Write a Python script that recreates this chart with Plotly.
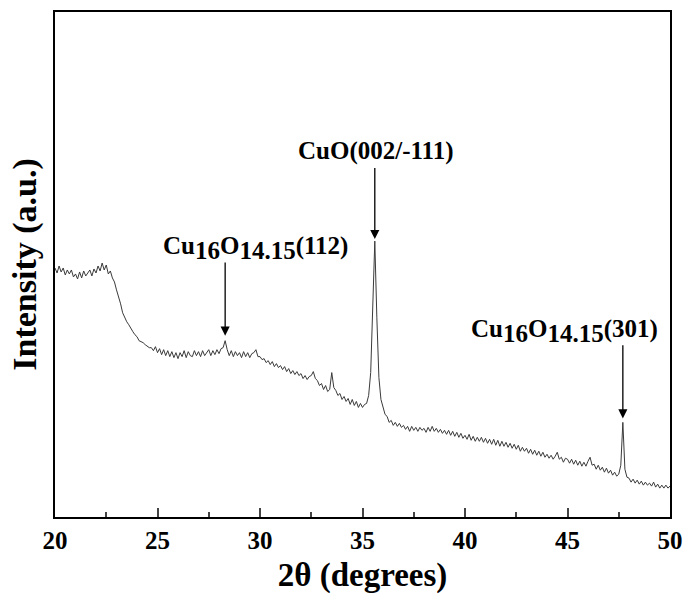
import numpy as np
import plotly.graph_objects as go

# 2theta grid (degrees), step 0.1
two_theta = [round(20 + 0.1 * i, 1) for i in range(301)]

intensity = [
    250, 245, 252, 246, 250, 243, 248, 244, 248, 241,
    244, 239, 246, 240, 247, 242, 245, 248, 242, 249,
    245, 252, 247, 255, 248, 253, 244, 247, 240, 236,
    228, 222, 214, 205, 200, 196, 193, 189, 186, 183,
    181, 177, 176, 175, 173, 171, 170, 170, 167, 171,
    165, 169, 163, 168, 162, 167, 161, 166, 160, 165,
    159, 165, 161, 167, 160, 166, 162, 161, 167, 162,
    166, 161, 167, 162, 165, 168, 162, 167, 163, 168,
    164, 169, 170, 177, 168, 162, 167, 161, 166, 162,
    165, 160, 166, 161, 165, 160, 164, 165, 168, 161,
    161, 158, 159, 155, 157, 153, 156, 151, 154, 150,
    152, 148, 151, 146, 149, 144, 147, 143, 146, 142,
    144, 139, 142, 138, 141, 142, 146, 139, 137, 132,
    134, 128, 132, 126, 128, 145, 130, 127, 122, 124,
    118, 121, 116, 119, 113, 118, 112, 116, 110, 114,
    110, 113, 114, 122, 145, 205, 277, 200, 140, 118,
    110, 103, 101, 95, 97, 92, 95, 91, 94, 90,
    92, 88, 91, 86, 91, 87, 90, 86, 90, 87,
    89, 85, 90, 86, 91, 86, 89, 85, 88, 84,
    87, 83, 87, 82, 86, 81, 85, 80, 84, 79,
    82, 78, 83, 77, 81, 76, 80, 76, 80, 75,
    79, 74, 78, 73, 78, 72, 77, 71, 76, 71,
    75, 70, 74, 69, 73, 68, 72, 66, 70, 66,
    69, 64, 68, 63, 67, 62, 66, 61, 65, 60,
    63, 59, 62, 58, 61, 65, 58, 60, 55, 59,
    58, 54, 58, 53, 57, 52, 56, 51, 55, 51,
    56, 60, 52, 53, 48, 52, 47, 50, 45, 49,
    44, 47, 42, 45, 41, 43, 52, 95, 48, 40,
    39, 35, 38, 34, 37, 33, 36, 32, 35, 32,
    34, 31, 35, 30, 33, 29, 32, 29, 32, 29,
    31,
]

# peak labels: text, peak position, label centre (x, y), arrow tail y, arrow tip y
SUB = '<sub><span style="font-size:25px">{}</span></sub>'
labels = ["Cu" + SUB.format("16") + "O" + SUB.format("14.15") + "(112)",
          "CuO(002/-111)",
          "Cu" + SUB.format("16") + "O" + SUB.format("14.15") + "(301)"]
peak_pos = [28.3, 35.6, 47.7]
label_x = [29.8, 35.65, 44.85]
label_y = [270, 367, 187]
arrow_tail = [257, 352, 174]
arrow_tip = [182, 279, 99]

x_ticks = [20, 25, 30, 35, 40, 45, 50]
x_tick_text = ["<b>%d</b>" % v for v in x_ticks]

FONT = "Liberation Serif"

fig = go.Figure()
fig.add_trace(go.Scatter(x=two_theta, y=intensity, mode="lines",
                         line=dict(color="#3a3a3a", width=1), showlegend=False))

for t, px, lx, ly, at, tip in zip(labels, peak_pos, label_x, label_y, arrow_tail, arrow_tip):
    fig.add_annotation(x=lx, y=ly, text="<b>" + t + "</b>", showarrow=False,
                       font=dict(family=FONT, size=25, color="black"))
    fig.add_annotation(x=px, y=tip, ax=px, ay=at, axref="x", ayref="y", text="",
                       showarrow=True, arrowhead=2, arrowsize=1.4, arrowwidth=1.3,
                       arrowcolor="black")

fig.update_layout(
    width=693, height=605,
    margin=dict(l=55, r=15, t=10, b=88),
    paper_bgcolor="white", plot_bgcolor="white",
    font=dict(family=FONT, color="black"),
)
fig.update_xaxes(range=[20, 50], tickvals=x_ticks, ticktext=x_tick_text,
                 ticks="inside", ticklen=9, tickwidth=2,
                 minor=dict(dtick=2.5, ticks="inside", ticklen=5, tickwidth=2),
                 showline=True, linewidth=2, linecolor="black", mirror=True,
                 showgrid=False, zeroline=False,
                 tickfont=dict(family=FONT, size=25, color="black"),
                 title=dict(text="<b>2θ (degrees)</b>", font=dict(family=FONT, size=33), standoff=10))
fig.update_yaxes(range=[0, 507], showticklabels=False, ticks="",
                 showline=True, linewidth=2, linecolor="black", mirror=True,
                 showgrid=False, zeroline=False,
                 title=dict(text="<b>Intensity (a.u.)</b>", font=dict(family=FONT, size=34), standoff=6))

fig.write_html("out.html")
